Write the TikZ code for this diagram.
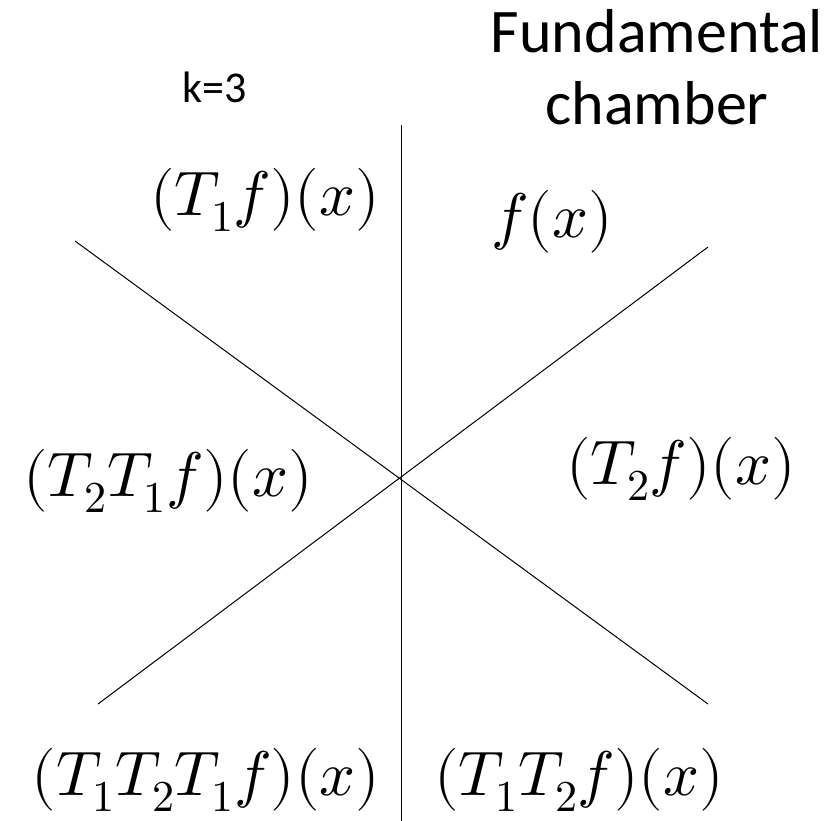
\documentclass[tikz,border=0pt]{standalone}
\usepackage{fontspec}
\usepackage{unicode-math}
\setmathfont{Latin Modern Math}
\usepackage{tikz}
\newfontfamily\labelfont{Carlito}

\begin{document}
\begin{tikzpicture}[x=1pt,y=-1pt]

% Stili
\tikzset{
  wall/.style={black, line width=1pt},
  chamberlab/.style={inner sep=0pt, font=\fontsize{63}{70}\selectfont},
  notelab/.style={inner sep=0pt, anchor=base, font=\labelfont\fontsize{62}{72}\selectfont}
}

% Margini della figura
\useasboundingbox (0,0) rectangle (833,821);

% Centro e estremi delle pareti
\coordinate (O) at (401,476);
\coordinate (top) at (401,125);
\coordinate (bot) at (401,821);
\coordinate (ul) at (75,241);
\coordinate (lr) at (708,704);
\coordinate (ur) at (708,247);
\coordinate (ll) at (98,704);

% Pareti
\draw[wall] (top) -- (bot);
\draw[wall] (ul) -- (lr);
\draw[wall] (ur) -- (ll);

% Titolo
\node[notelab] (fund) at (657,53) {Fundamental};
\node[notelab] (cham) at ([yshift=-72pt]fund.base) {chamber};
\node[notelab, font=\labelfont\fontsize{44}{50}\selectfont] (kval) at (215,103) {k=3};

% Camere
\node[chamberlab] (c0) at (552,222) {$f(x)$};
\node[chamberlab] (c1) at (265,200) {$(T_1f)(x)$};
\node[chamberlab] (c2) at (681,469) {$(T_2f)(x)$};
\node[chamberlab] (c21) at (168,481) {$(T_2T_1f)(x)$};
\node[chamberlab] (c12) at (579,780) {$(T_1T_2f)(x)$};
\node[chamberlab] (c121) at (206,780) {$(T_1T_2T_1f)(x)$};

\end{tikzpicture}
\end{document}
